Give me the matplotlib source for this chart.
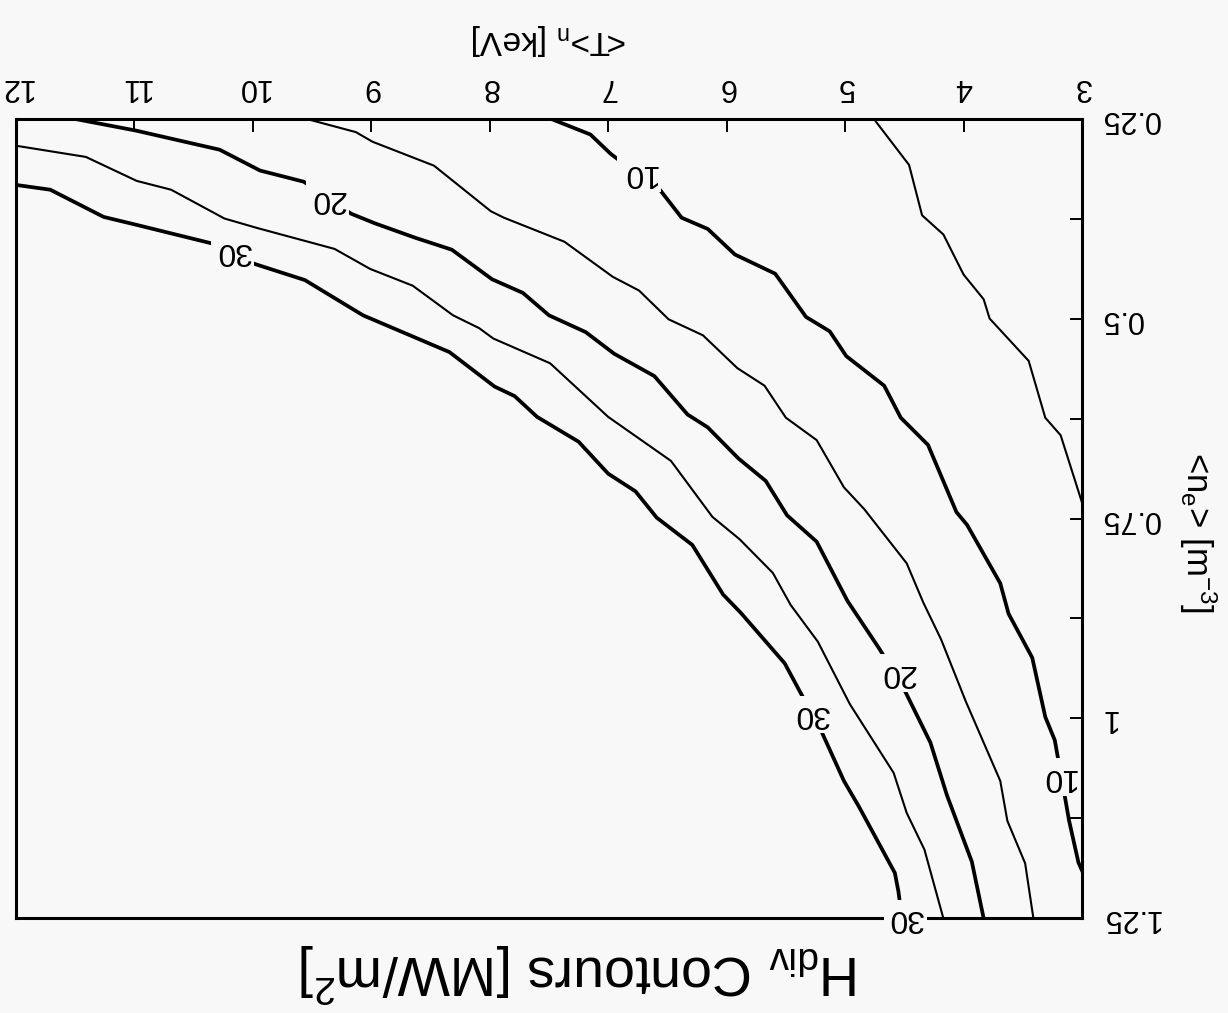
"""
Divertor heat-flux contours H_div [MW/m^2] over the (<n_e>, <T>_n) plane.
The sheet is laid out turned by 180 degrees, so both axes run backwards
and every piece of text is rotated half a turn.
"""

import matplotlib
matplotlib.use("Agg")
import matplotlib.pyplot as plt

plt.rcParams["font.family"] = ["Liberation Sans", "DejaVu Sans"]
plt.rcParams["mathtext.fontset"] = "custom"
plt.rcParams["mathtext.rm"] = "Liberation Sans"
plt.rcParams["mathtext.it"] = "Liberation Sans:italic"

PAPER = "#f8f8f8"

# ── contour paths: temperature <T>_n [keV] and density <n_e> ─────────────────
h05_T = [4.76, 4.46, 4.35, 4.17, 4.00, 3.83, 3.78, 3.45, 3.31, 3.18, 3.00]
h05_n = [0.250, 0.308, 0.371, 0.395, 0.445, 0.476, 0.500, 0.553, 0.624, 0.646, 0.730]

h10_T = [7.49, 7.15, 6.98, 6.90, 6.59, 6.38, 6.16, 5.93, 5.59, 5.33,
         5.13, 4.99, 4.67, 4.53, 4.30, 4.06, 3.97, 3.69, 3.62, 3.42,
         3.31, 3.23, 3.15, 3.11, 3.03, 3.00]
h10_n = [0.250, 0.270, 0.294, 0.303, 0.334, 0.374, 0.388, 0.420, 0.444, 0.498,
         0.516, 0.547, 0.584, 0.624, 0.658, 0.742, 0.758, 0.831, 0.869, 0.924,
         0.998, 1.027, 1.093, 1.127, 1.180, 1.190]

h15_T = [9.56, 9.13, 8.99, 8.47, 7.99, 7.88, 7.37, 6.96, 6.74, 6.49,
         6.20, 5.91, 5.68, 5.50, 5.24, 5.01, 4.84, 4.48, 4.34, 4.19,
         3.98, 3.69, 3.63, 3.48, 3.41]
h15_n = [0.250, 0.267, 0.279, 0.309, 0.366, 0.374, 0.404, 0.448, 0.465, 0.501,
         0.521, 0.562, 0.584, 0.624, 0.652, 0.711, 0.738, 0.806, 0.855, 0.901,
         0.979, 1.078, 1.128, 1.181, 1.250]

h20_T = [11.52, 10.99, 10.28, 9.94, 9.57, 9.17, 8.97, 8.63, 8.32, 7.98,
         7.72, 7.50, 7.19, 6.95, 6.61, 6.33, 6.16, 5.90, 5.67, 5.49,
         5.24, 4.98, 4.89, 4.71, 4.50, 4.28, 4.14, 3.93, 3.83]
h20_n = [0.250, 0.265, 0.289, 0.315, 0.329, 0.369, 0.381, 0.399, 0.414, 0.451,
         0.468, 0.496, 0.517, 0.544, 0.572, 0.620, 0.636, 0.675, 0.703, 0.746,
         0.779, 0.853, 0.873, 0.913, 0.964, 1.030, 1.096, 1.179, 1.250]

h25_T = [12.00, 11.41, 10.98, 10.69, 10.24, 9.96, 9.31, 9.01, 8.65, 8.31,
         8.09, 7.97, 7.49, 7.00, 6.47, 6.12, 5.89, 5.61, 5.46, 5.23,
         4.96, 4.59, 4.48, 4.33, 4.17]
h25_n = [0.284, 0.298, 0.328, 0.339, 0.375, 0.387, 0.413, 0.438, 0.459, 0.496,
         0.512, 0.525, 0.556, 0.623, 0.678, 0.748, 0.776, 0.818, 0.858, 0.904,
         0.982, 1.068, 1.118, 1.164, 1.250]

h30_T = [12.00, 11.71, 11.26, 10.98, 10.35, 9.98, 9.56, 9.07, 8.34, 7.96,
         7.79, 7.60, 7.25, 7.00, 6.77, 6.59, 6.29, 6.03, 5.88, 5.51,
         5.39, 5.20, 5.01, 4.88, 4.58, 4.55, 4.52]
h30_n = [0.333, 0.339, 0.373, 0.383, 0.406, 0.432, 0.452, 0.496, 0.542, 0.585,
         0.597, 0.623, 0.654, 0.694, 0.716, 0.749, 0.783, 0.845, 0.868, 0.931,
         0.964, 1.016, 1.078, 1.111, 1.193, 1.216, 1.250]

levels = [5, 10, 15, 20, 25, 30]
paths_T = [h05_T, h10_T, h15_T, h20_T, h25_T, h30_T]
paths_n = [h05_n, h10_n, h15_n, h20_n, h25_n, h30_n]
labelled_levels = [10, 20, 30]

# inline label spots (T, n_e) for the labelled contours
label_spots = {
    10: [(6.74, 0.318), (3.20, 1.073)],
    20: [(9.37, 0.351), (4.56, 0.943)],
    30: [(10.17, 0.416), (5.29, 0.995), (4.49, 1.250)],
}

# ── axes ticks ───────────────────────────────────────────────────────────────
t_ticks = [3, 4, 5, 6, 7, 8, 9, 10, 11, 12]
t_tick_labels = ["3", "4", "5", "6", "7", "8", "9", "10", "11", "12"]
ne_ticks = [0.25, 0.5, 0.75, 1.0, 1.25]
ne_tick_labels = ["0.25", "0.5", "0.75", "1", "1.25"]
ne_minor = [0.375, 0.625, 0.875, 1.125]

fig = plt.figure(figsize=(12.28, 10.13), dpi=100, facecolor=PAPER)
ax = fig.add_axes([0.013, 0.0933, 0.8681, 0.7897], facecolor=PAPER)

for lev, T, n in zip(levels, paths_T, paths_n):
    lw = 2.7 if lev in labelled_levels else 1.5
    ax.plot(T, n, color="black", lw=lw, solid_joinstyle="round", zorder=3)

for lev, spots in label_spots.items():
    for T, n in spots:
        ax.text(T, n, str(lev), rotation=180, ha="center", va="center",
                fontsize=23, zorder=6, clip_on=False,
                bbox=dict(boxstyle="square,pad=0.12", fc=PAPER, ec="none"))

# both axes run backwards (sheet turned upside down)
ax.set_xlim(12, 3)
ax.set_ylim(1.25, 0.25)

ax.xaxis.tick_top()
ax.yaxis.tick_right()
ax.set_xticks(t_ticks)
ax.set_xticklabels(t_tick_labels)
ax.set_yticks(ne_ticks)
ax.set_yticklabels(ne_tick_labels)
ax.set_yticks(ne_minor, minor=True)
ax.tick_params(axis="both", which="both", direction="in", length=9,
               width=1.4, color="black")
ax.tick_params(axis="x", labelsize=22, pad=12, labelrotation=180)
ax.tick_params(axis="y", labelsize=22, pad=13, labelrotation=180)
for lab in ax.get_yticklabels():
    lab.set_va("center")

for side in ax.spines.values():
    side.set_linewidth(2.2)
    side.set_zorder(4)

ax.xaxis.set_label_position("top")
ax.set_xlabel(r"<T>$_\mathrm{n}$ [keV]", fontsize=24, rotation=180,
              ha="center", va="center")
ax.xaxis.set_label_coords(0.5, 1.099)

ax.yaxis.set_label_position("right")
ax.set_ylabel(r"<n$_\mathrm{e}$> [m$^{-3}$]", fontsize=25, rotation=270,
              ha="center", va="center", rotation_mode="default")
ax.yaxis.set_label_coords(1.109, 0.482)

ax.text(0.529, -0.068, r"H$_\mathrm{div}$ Contours [MW/m$^2$]",
        transform=ax.transAxes, rotation=180, ha="center", va="center",
        fontsize=40)

fig.savefig("out.png", dpi=100, facecolor=PAPER)
